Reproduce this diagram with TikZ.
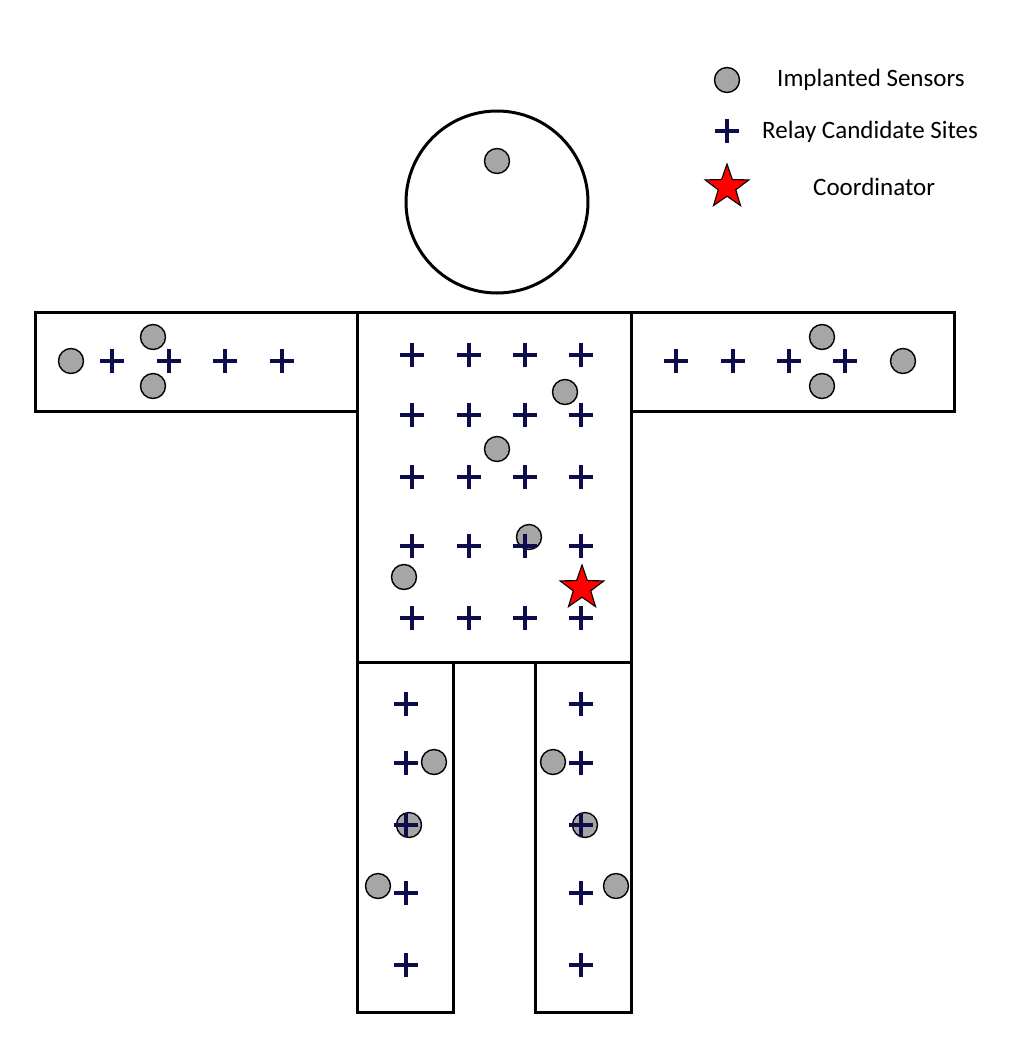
\documentclass[tikz,border=0pt]{standalone}
\usepackage{fontspec}
\setmainfont{Carlito}
\usetikzlibrary{shapes.geometric,shapes.misc}
\definecolor{relayblue}{rgb}{0.05,0.05,0.30}
\definecolor{sensorgray}{rgb}{0.65,0.65,0.65}
\tikzset{
  part/.style={draw=black,line width=3pt},
  sensor/.style={circle,draw=black,line width=1.4pt,fill=sensorgray,minimum size=25pt,inner sep=0pt},
  relay/.style={cross out,draw=relayblue,line width=3.8pt,rotate=45,minimum size=13.5pt,inner sep=0pt},
  coord/.style={star,star points=5,star point ratio=2.5,draw=black,line width=1.1pt,fill=red,minimum size=46pt,inner sep=0pt},
  legendtext/.style={anchor=west,font=\fontsize{25}{30}\selectfont,inner sep=0pt}
}
\begin{document}
\begin{tikzpicture}[x=1pt,y=-1pt]
\useasboundingbox (0,0) rectangle (1022,1045);
% body parts
\draw[part] (497,202) circle (91);
\draw[part] (35,312) rectangle (357,411);
\draw[part] (631,312) rectangle (954,411);
\draw[part] (357,312) rectangle (631,662);
\draw[part] (357,662) rectangle (453,1012);
\draw[part] (535,662) rectangle (631,1012);
% relay candidate sites: arms
\foreach \x [count=\i] in {112,169,225,282}{\node[relay] (la\i) at (\x,361) {};}
\foreach \x [count=\i] in {676,733,789,845}{\node[relay] (ra\i) at (\x,361) {};}
% torso grid
\foreach \y [count=\j] in {355,415,477,546,618}{
  \foreach \x [count=\i] in {412,469,525,581}{\node[relay] (t\j\i) at (\x,\y) {};}}
% legs
\foreach \y [count=\j] in {704,763,825,893,965}{
  \node[relay] (ll\j) at (406,\y) {};
  \node[relay] (rl\j) at (581,\y) {};}
% sensors
\node[sensor] (sh) at (497,161) {};
\node[sensor] (sla1) at (71,361) {};
\node[sensor] (sla2) at (153,337) {};
\node[sensor] (sla3) at (153,386) {};
\node[sensor] (sra1) at (822,337) {};
\node[sensor] (sra2) at (903,361) {};
\node[sensor] (sra3) at (822,386) {};
\node[sensor] (st1) at (565,392) {};
\node[sensor] (st2) at (497,449) {};
\node[sensor] (st3) at (529,537) {};
\node[sensor] (st4) at (404,577) {};
\node[sensor] (sll1) at (434,762) {};
\node[sensor] (srl1) at (553,762) {};
\node[sensor] (sll2) at (409,825) {};
\node[sensor] (srl2) at (585,825) {};
\node[sensor] (sll3) at (378,886) {};
\node[sensor] (srl3) at (616,886) {};
% relays that lie over sensors
\node[relay] (ll3b) at (406,825) {};
\node[relay] (rl3b) at (581,825) {};
\node[relay] (t43b) at (525,546) {};
% coordinator
\node[coord] (c) at (582,588) {};
% legend
\node[sensor] (ls) at (727,80) {};
\node[relay] (lr) at (727,131) {};
\node[coord] (lc) at (727,187) {};
\node[legendtext] (lst) at (777,80) {Implanted Sensors};
\node[legendtext] (lrt) at (762,132) {Relay Candidate Sites};
\node[legendtext] (lct) at (813,187) {Coordinator};
\end{tikzpicture}
\end{document}
